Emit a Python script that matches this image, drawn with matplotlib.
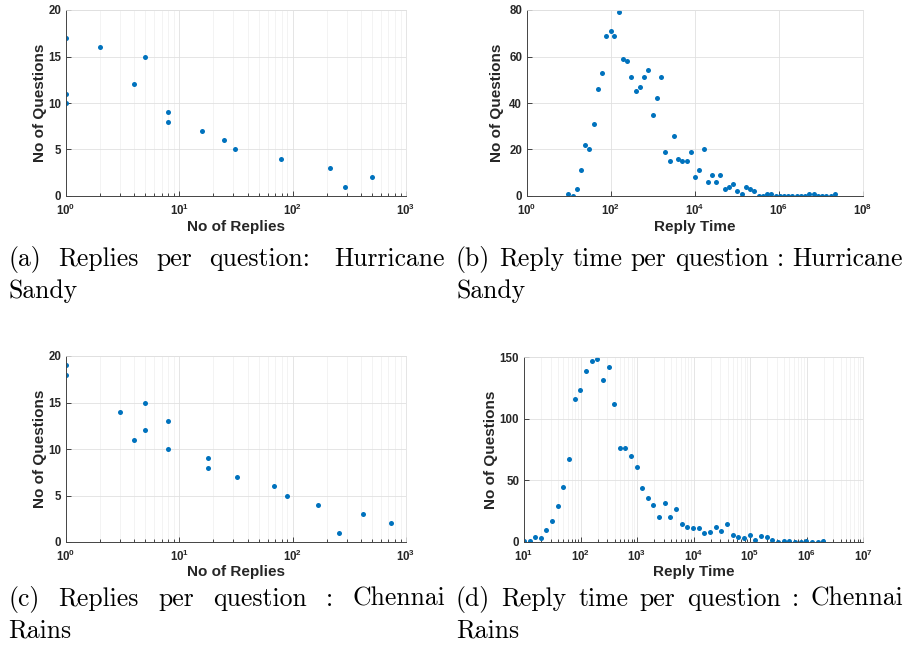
import numpy as np
import matplotlib
matplotlib.use('Agg')
import matplotlib.pyplot as plt
from matplotlib.ticker import FixedLocator, FuncFormatter, NullLocator, LogLocator, NullFormatter

# ---------------- data ----------------
sandy_replies_x = [1, 1, 1, 2, 4, 5, 8, 8, 16, 25, 31, 79, 212, 288, 498]
sandy_replies_y = [17, 11, 10, 16, 12, 15, 9, 8, 7, 6, 5, 4, 3, 1, 2]

sandy_time_x = [9.4, 12.2, 15.1, 19.2, 23.9, 30.3, 38.4, 48.7, 60.6, 76.8, 97.3, 121,
                153, 195, 247, 307, 389, 493, 625, 778, 986, 1250, 1556, 1972,
                2500, 3170, 3945, 5000, 6340, 7890, 10000, 12680, 16070, 20000,
                25350, 32130, 40000, 50700, 64300, 81500, 101000, 128500, 163000,
                206500, 257000, 326000, 413000, 514000, 652000, 826000, 1.05e6,
                1.30e6, 1.65e6, 2.09e6, 2.65e6, 3.30e6, 4.19e6, 5.31e6, 6.73e6,
                8.38e6, 1.06e7, 1.35e7, 1.71e7, 2.12e7]
sandy_time_y = [1, 0, 3, 11, 22, 20, 31, 46, 53, 69, 71, 69,
                79, 59, 58, 51, 45, 47, 51, 54, 35, 42, 51, 19,
                15, 26, 16, 15, 15, 19, 8, 11, 20, 6,
                9, 6, 9, 3, 4, 5, 2, 1, 4,
                3, 2, 0, 0, 1, 1, 0, 0,
                0, 0, 0, 0, 0, 0, 1, 1,
                0, 0, 0, 0, 1]

chennai_replies_x = [1, 1, 3, 4, 5, 5, 8, 8, 18, 18, 32, 69, 90, 169, 258, 415, 738]
chennai_replies_y = [19, 18, 14, 11, 15, 12, 13, 10, 9, 8, 7, 6, 5, 4, 1, 3, 2]

chennai_time_x = [10, 12.6, 15.9, 20, 24.8, 31.2, 39.4, 49.6, 62.4, 78.6, 99, 125,
                  157, 198, 249, 314, 390, 491, 618, 778, 982, 1236, 1556, 1959,
                  2466, 3110, 3916, 4930, 6210, 7820, 9860, 12400, 15630, 19680,
                  24780, 31200, 39400, 49600, 62400, 78700, 99000, 125000, 157000,
                  198000, 249000, 314000, 395000, 498000, 627000, 789000, 993000,
                  1.25e6, 1.57e6, 1.98e6]
chennai_time_y = [1, 1, 4, 3, 10, 17, 29, 45, 67, 116, 123, 139,
                  147, 148, 131, 142, 112, 76, 76, 70, 61, 44, 36, 30,
                  20, 32, 20, 27, 15, 12, 11, 11, 7, 8,
                  12, 9, 15, 6, 4, 3, 6, 2, 5,
                  4, 2, 0, 1, 1, 0, 0, 1,
                  0, 0, 1]

xlabels = ["No of Replies", "Reply Time", "No of Replies", "Reply Time"]
ylabel = "No of Questions"
captions = [
    (["(a)", "Replies", "per", "question:", "Hurricane"], "Sandy"),
    (["(b)", "Reply", "time", "per", "question", ":", "Hurricane"], "Sandy"),
    (["(c)", "Replies", "per", "question", ":", "Chennai"], "Rains"),
    (["(d)", "Reply", "time", "per", "question", ":", "Chennai"], "Rains"),
]

# ---------------- style ----------------
W, H = 905, 651
plt.rcParams['font.family'] = ['Liberation Sans', 'DejaVu Sans']
plt.rcParams['mathtext.fontset'] = 'custom'
plt.rcParams['mathtext.bf'] = 'Liberation Sans:bold'
plt.rcParams['mathtext.rm'] = 'Liberation Sans:bold'

DARK = '#262626'
GRID = '#e0e0e0'
MINOR = '#eeeeee'
BLUE = '#0072BD'

fig = plt.figure(figsize=(W / 100, H / 100), dpi=100)


def add_ax(l, r, t, b):
    return fig.add_axes([l / W, 1 - b / H, (r - l) / W, (b - t) / H])


def pow_fmt(v, pos):
    return r'$\mathbf{10^{%d}}$' % int(round(np.log10(v)))


def style(ax, xlim, ylim, yticks, xexp, minor, xlab, ylab_x, xlab_y):
    ax.set_xscale('log')
    ax.set_xlim(*xlim)
    ax.set_ylim(*ylim)
    ax.set_yticks(yticks)
    ax.yaxis.set_minor_locator(NullLocator())
    ax.xaxis.set_major_locator(FixedLocator([10.0 ** e for e in xexp]))
    ax.xaxis.set_major_formatter(FuncFormatter(pow_fmt))
    if minor:
        ax.xaxis.set_minor_locator(LogLocator(base=10, subs=np.arange(2, 10), numticks=50))
        ax.grid(True, which='minor', axis='x', color=MINOR, lw=0.5)
    else:
        ax.xaxis.set_minor_locator(NullLocator())
    ax.xaxis.set_minor_formatter(NullFormatter())
    ax.grid(True, which='major', color=GRID, lw=0.6)
    ax.set_axisbelow(True)
    ax.tick_params(which='both', direction='in', colors=DARK, labelsize=8.3, width=0.6)
    ax.tick_params(which='major', length=3.5)
    ax.tick_params(which='minor', length=2)
    ax.tick_params(axis='x', pad=5)
    ax.tick_params(axis='y', pad=3.5)
    for lab in ax.get_yticklabels():
        lab.set_fontweight('bold')
    for s in ('left', 'bottom'):
        ax.spines[s].set_color('#444444')
        ax.spines[s].set_linewidth(0.7)
    for s in ('top', 'right'):
        ax.spines[s].set_color(GRID)
        ax.spines[s].set_linewidth(0.6)
    ax.set_xlabel(xlab, fontsize=11, fontweight='bold', color=DARK)
    ax.set_ylabel(ylabel, fontsize=11, fontweight='bold', color=DARK)
    ax.xaxis.set_label_coords(0.5, xlab_y)
    ax.yaxis.set_label_coords(ylab_x, 0.5)


ms = dict(marker='o', ms=3.6, mew=0, color=BLUE, ls='none')

axa = add_ax(66, 406, 10, 196)
axa.plot(sandy_replies_x, sandy_replies_y, **ms)
style(axa, (1, 1000), (0, 20), [0, 5, 10, 15, 20], [0, 1, 2, 3], True, xlabels[0],
      -19 / 340, -24 / 186)

axb = add_ax(527, 863, 10, 196)
axb.plot(sandy_time_x, sandy_time_y, **ms)
style(axb, (1, 1e8), (0, 80), [0, 20, 40, 60, 80], [0, 2, 4, 6, 8], False, xlabels[1],
      -23 / 336, -24 / 186)

axc = add_ax(66, 406, 356, 542)
axc.plot(chennai_replies_x, chennai_replies_y, **ms)
style(axc, (1, 1000), (0, 20), [0, 5, 10, 15, 20], [0, 1, 2, 3], True, xlabels[2],
      -19 / 340, -23 / 186)

axd = add_ax(524, 863, 357, 542)
axd.plot(chennai_time_x, chennai_time_y, **ms)
style(axd, (10, 1e7), (0, 150), [0, 50, 100, 150], [1, 2, 3, 4, 5, 6, 7], True, xlabels[3],
      -26 / 339, -23 / 185)

# ---------------- captions (justified, serif) ----------------
renderer = fig.canvas.get_renderer()
CAP_FS = 18.5
CAP_FONT = ['cmr10', 'DejaVu Serif']


def justified(words, x0, x1, base, weights=None):
    texts = [fig.text(x0 / W, 1 - base / H, w, fontsize=CAP_FS, family=CAP_FONT,
                      ha='left', va='baseline', color='black') for w in words]
    widths = [t.get_window_extent(renderer).width for t in texts]
    n = len(words) - 1
    if weights is None:
        weights = [1.0] * n
    unit = (x1 - x0 - sum(widths)) / sum(weights)
    x = x0
    for i, t in enumerate(texts):
        t.set_x(x / W)
        if i < n:
            x += widths[i] + unit * weights[i]


cap_layout = [(8, 445, 266, 298), (456, 903, 266, 298), (8, 445, 606, 638), (456, 903, 606, 638)]
for (words, line2), (x0, x1, b1, b2) in zip(captions, cap_layout):
    wts = None
    if words[-2].endswith(':') and len(words[-2]) > 1:
        wts = [1.0] * (len(words) - 2) + [1.4]
    justified(words, x0, x1, b1, wts)
    fig.text(x0 / W, 1 - b2 / H, line2, fontsize=CAP_FS, family=CAP_FONT,
             ha='left', va='baseline', color='black')

fig.savefig('out.png', dpi=100)
